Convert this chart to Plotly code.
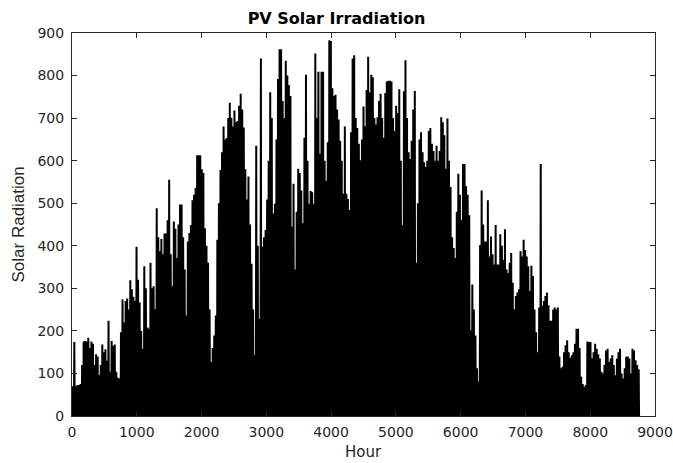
import plotly.graph_objects as go

# Daily peak solar radiation (W/m^2), day 0..364
daily_peak = [
    70, 174, 70, 73, 73, 75, 120, 175, 176, 175,
    184, 160, 175, 170, 120, 145, 140, 96, 120, 168,
    150, 157, 130, 224, 104, 176, 165, 168, 104, 90,
    88, 197, 274, 220, 270, 276, 250, 319, 298, 280,
    270, 398, 320, 267, 200, 158, 352, 300, 208, 205,
    360, 300, 305, 251, 488, 420, 387, 416, 380, 429,
    429, 460, 555, 380, 305, 457, 440, 371, 450, 497,
    497, 420, 344, 236, 410, 430, 449, 507, 520, 536,
    613, 613, 613, 580, 571, 441, 400, 360, 250, 127,
    160, 189, 236, 414, 500, 578, 620, 680, 650, 653,
    700, 736, 701, 680, 718, 690, 693, 729, 757, 720,
    678, 580, 509, 563, 450, 358, 250, 143, 635, 400,
    228, 840, 398, 420, 437, 509, 600, 761, 700, 476,
    499, 650, 792, 862, 862, 740, 700, 835, 800, 778,
    752, 445, 546, 344, 480, 581, 571, 530, 453, 654,
    802, 600, 499, 529, 526, 499, 852, 700, 809, 616,
    809, 809, 600, 553, 643, 883, 881, 770, 752, 755,
    720, 697, 647, 600, 522, 680, 522, 510, 484, 667,
    840, 848, 700, 677, 640, 601, 650, 727, 681, 766,
    844, 760, 802, 796, 700, 685, 702, 740, 757, 700,
    654, 759, 786, 788, 788, 786, 700, 670, 729, 712,
    768, 600, 449, 763, 836, 700, 620, 604, 647, 720,
    764, 360, 500, 650, 667, 620, 596, 585, 600, 670,
    677, 640, 623, 600, 635, 600, 623, 702, 690, 660,
    581, 699, 600, 538, 420, 395, 371, 480, 569, 520,
    460, 592, 592, 540, 520, 472, 201, 309, 250, 189,
    112, 81, 402, 530, 450, 410, 410, 507, 375, 422,
    380, 356, 449, 356, 356, 427, 400, 367, 439, 344,
    336, 360, 383, 313, 251, 282, 290, 298, 387, 375,
    414, 390, 375, 352, 294, 353, 329, 250, 197, 150,
    255, 592, 259, 270, 282, 290, 260, 224, 224, 250,
    255, 250, 255, 140, 112, 116, 150, 166, 178, 150,
    137, 143, 150, 170, 205, 205, 160, 92, 75, 69,
    73, 175, 174, 174, 135, 150, 170, 158, 145, 135,
    104, 100, 120, 154, 158, 127, 135, 143, 120, 96,
    135, 150, 158, 100, 88, 112, 139, 140, 135, 100,
    158, 154, 131, 120, 110,
]

x_ticks = [0, 1000, 2000, 3000, 4000, 5000, 6000, 7000, 8000, 9000]
y_ticks = [0, 100, 200, 300, 400, 500, 600, 700, 800, 900]

# hourly series: zero at night, daily peak at midday
hours = []
values = []
for d, p in enumerate(daily_peak):
    hours += [24 * d + 6, 24 * d + 12, 24 * d + 18]
    values += [0, p, 0]

fig = go.Figure()
fig.add_trace(go.Scatter(x=hours, y=values, mode="lines",
                         line=dict(color="black", width=2), hoverinfo="skip"))

wide = "DejaVu Sans, Verdana, sans-serif"
narrow = "Liberation Sans, Arial, sans-serif"
txt = "#262626"
axis_common = dict(showline=True, linecolor=txt, linewidth=1, mirror="ticks",
                   ticks="inside", ticklen=5, tickcolor=txt, showgrid=False,
                   zeroline=False, automargin=False,
                   tickfont=dict(family=wide, size=14, color=txt))

fig.update_layout(
    width=673, height=463,
    margin=dict(l=72, r=18, t=33, b=47),
    paper_bgcolor="white", plot_bgcolor="white",
    showlegend=False,
    title=dict(text="<b>PV Solar Irradiation</b>", x=0.5, xanchor="center",
               y=1 - 18 / 463, yanchor="middle",
               font=dict(family=wide, size=16, color="black")),
    xaxis=dict(range=[0, 9000], tickvals=x_ticks, ticklabelstandoff=3, **axis_common),
    yaxis=dict(range=[0, 900], tickvals=y_ticks, ticklabelstandoff=4, **axis_common),
    annotations=[
        dict(text="Hour", xref="paper", yref="paper", x=0.5, y=-36 / 383,
             xanchor="center", yanchor="middle", showarrow=False,
             font=dict(family=wide, size=15, color=txt)),
        dict(text="Solar Radiation", xref="paper", yref="paper", x=-54 / 583, y=0.5,
             xanchor="center", yanchor="middle", showarrow=False, textangle=-90,
             font=dict(family=narrow, size=17, color=txt)),
    ],
)

fig.write_html("out.html")
